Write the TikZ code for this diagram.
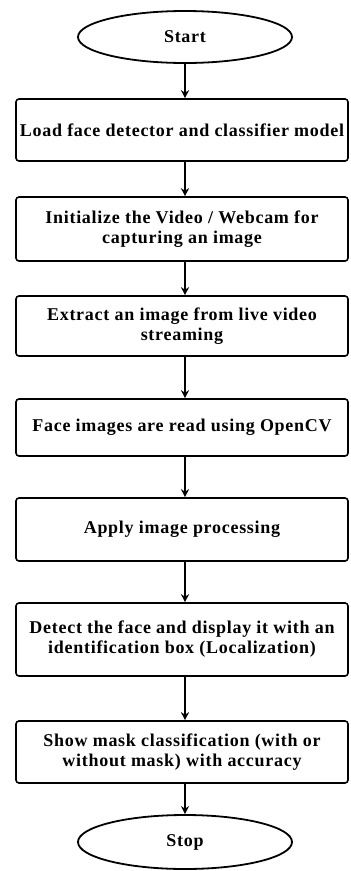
\documentclass[tikz,border=0pt]{standalone}
\usepackage{fontspec}
\setmainfont{Liberation Serif}
\newfontfamily\boxfont[LetterSpace=4]{Liberation Serif}
\usetikzlibrary{shapes.geometric,arrows.meta}
\tikzset{
    stepbox/.style={draw,line width=1.6pt,rounded corners=3pt,minimum width=332pt,
        minimum height=#1,align=center,inner sep=1pt,
        font=\boxfont\bfseries\fontsize{18}{20}\selectfont},
    termnode/.style={draw,ellipse,line width=1.8pt,minimum width=214pt,minimum height=#1,
        font=\boxfont\bfseries\fontsize{18}{20}\selectfont},
}
\begin{document}
\begin{tikzpicture}[>={Stealth[length=8pt,width=8pt]},x=1pt,y=-1pt]
    \useasboundingbox (0,0) rectangle (351,871);
    \node[termnode=52pt](start) at (185,37) {Start};
    \node[stepbox=62pt](load) at (182,130) {Load face detector and classifier model};
    \node[stepbox=64pt](init) at (182,229) {Initialize the Video / Webcam for\\capturing an image};
    \node[stepbox=60pt](extract) at (182,326) {Extract an image from live video\\streaming};
    \node[stepbox=57pt](read) at (182,427.5) {Face images are read using OpenCV};
    \node[stepbox=63pt](proc) at (182,529.5) {Apply image processing};
    \node[stepbox=73pt](detect) at (182,639.5) {Detect the face and display it with an\\identification box (Localization)};
    \node[stepbox=62pt](show) at (182,752) {Show mask classification (with or\\without mask) with accuracy};
    \node[termnode=54pt](stop) at (185,842) {Stop};
    \foreach \a/\b in {start/load,load/init,init/extract,extract/read,read/proc,proc/detect,detect/show,show/stop}
    {
        \draw[->,line width=1.5pt](\a.south -| start)--(\b.north -| start);
    }
\end{tikzpicture}
\end{document}
